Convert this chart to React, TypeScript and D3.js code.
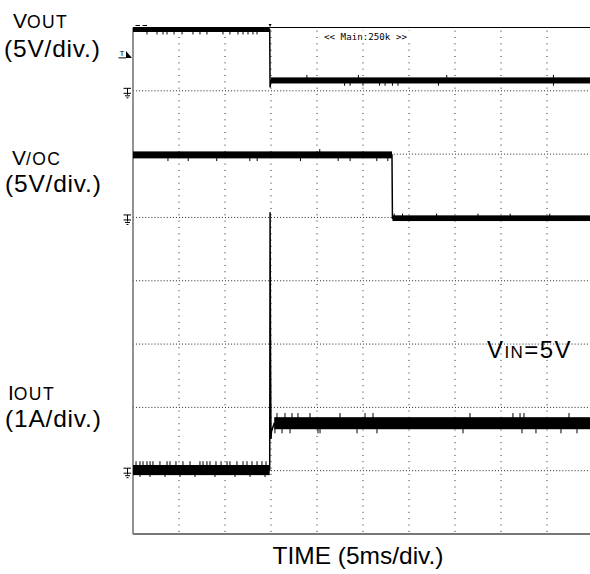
import React from 'react';
import * as d3 from 'd3';

const W = 590;
const H = 574;

// Horizontal: 5 ms/div, 10 divisions. Vertical: 8 divisions.
const msPerDiv = 5;
const hDivs = 10;
const vDivsHalf = 4;

// Channel scales and ground positions (divisions from screen centre)
const voutScale = 5; // V/div
const voutGround = 3;
const vocScale = 5; // V/div
const vocGround = 1;
const ioutScale = 1; // A/div
const ioutGround = -3;
const trigLevel = 2.6; // V on VOUT channel
const trigTime = 14.9; // ms

// VOUT trace (ms, V), noise p-p per segment
const voutT = [0, 14.86, 14.9, 15.0, 50];
const voutV = [4.82, 4.82, 0.27, 0.82, 0.82];
const voutPP = [0.35, 0, 0, 0.48];
const voutGlitchDownT = [1.52, 2.61, 3.26, 3.7, 4.46, 5.33, 6.52, 7.28, 8.04, 9.78, 10.54, 11.41, 11.96, 12.5, 13.04, 13.48];
const voutGlitchDownV = 4.45;
const voutLowGlitchUpT = [18.9, 24.5, 34.1, 45.7];
const voutLowGlitchUpV = 1.25;
const voutLowGlitchDownT = [23.0, 23.6, 25.0, 26.8, 27.4, 28.2, 28.8, 33.2, 45.7];
const voutLowGlitchDownV = 0.4;

// /OC trace (ms, V)
const vocT = [0, 28.15, 28.2, 50];
const vocV = [4.94, 4.94, -0.06, -0.06];
const vocPP = [0.55, 0, 0.45];
const vocGlitchDownT = [3.8, 6.0, 9.1, 12.7, 13.5, 18.2, 22.3, 23.6, 26.5, 27.7];
const vocGlitchDownV = 4.45;
const vocGlitchUpT = [20.3];
const vocGlitchUpV = 5.4;
const vocLowGlitchUpT = [28.4, 29.3, 33.0, 37.5, 41.0, 45.3];
const vocLowGlitchUpV = 0.3;

// IOUT trace (ms, A)
const ioutT = [0, 14.86, 14.9, 14.95, 15.0, 15.05, 15.35, 50];
const ioutV = [0.01, 0.01, 4.08, 1.7, 0.5, 0.62, 0.75, 0.75];
const ioutPP = [0.16, 0, 0, 0, 0, 0, 0.19];
const ioutPreGlitchUpT = [0.33, 0.76, 1.09, 1.52, 1.85, 2.17, 2.93, 3.7, 4.02, 4.67, 5.43, 6.2, 7.28, 7.61, 8.04, 8.37, 9.02, 9.57, 10.22, 10.54, 11.3, 11.96, 12.39, 12.93, 13.48, 14.02, 14.46];
const ioutPreGlitchUpV = 0.15;
const ioutPreGlitchDownT = [0.76, 1.85, 3.48, 5.11, 6.74, 8.91, 11.09, 12.72, 14.35];
const ioutPreGlitchDownV = -0.1;
const ioutPostGlitchUpT = [15.65, 16.52, 17.28, 17.93, 19.24, 22.5, 25.22, 26.09, 36.63, 41.3, 42.07, 42.5, 47.39];
const ioutPostGlitchUpV = 0.91;
const ioutPostGlitchDownT = [15.43, 16.2, 17.07, 20.11, 20.33, 24.35, 26.52, 35.87, 42.28, 43.8, 46.52, 48.26];
const ioutPostGlitchDownV = 0.59;

const FONT = '"Liberation Sans", Arial, Helvetica, sans-serif';

export default function App() {
  const X0 = 133;
  const X1 = 593;
  const Y0 = 27.5;
  const Y1 = 534;
  const x = d3.scaleLinear().domain([0, msPerDiv * hDivs]).range([X0, X1]);
  const yd = d3.scaleLinear().domain([-vDivsHalf, vDivsHalf]).range([Y1, Y0]);
  const yVout = (v: number) => yd(voutGround + v / voutScale);
  const yVoc = (v: number) => yd(vocGround + v / vocScale);
  const yIout = (v: number) => yd(ioutGround + v / ioutScale);

  const hGrid = d3.range(-vDivsHalf + 1, vDivsHalf);
  const vGrid = d3.range(1, hDivs).map((d) => d * msPerDiv);
  const hDx = (X1 - X0) / hDivs;
  const vDy = (Y1 - Y0) / (2 * vDivsHalf);

  const trace = (ts: number[], vs: number[], yf: (v: number) => number, pp: number[], key: string) => {
    const pts = ts.map((t, i) => [x(t), yf(vs[i])] as [number, number]);
    const line = d3.line()(pts) || '';
    const bands = pp.map((p, i) => {
      if (p <= 0) return null;
      const yc = yf(vs[i]);
      const h = Math.abs(yf(vs[i] + p / 2) - yf(vs[i] - p / 2));
      return <rect key={key + 'b' + i} x={x(ts[i])} y={yc - h / 2} width={x(ts[i + 1]) - x(ts[i])} height={h} fill="#000" />;
    });
    return (
      <g key={key}>
        <path d={line} fill="none" stroke="#000" strokeWidth={1.5} />
        {bands}
      </g>
    );
  };

  const glitches = (ts: number[], base: number, peak: number, yf: (v: number) => number, key: string) =>
    ts.map((t, i) => (
      <line key={key + i} x1={x(t)} x2={x(t)} y1={yf(base)} y2={yf(peak)} stroke="#000" strokeWidth={1} />
    ));

  const groundMark = (gy: number, key: string) => (
    <g key={key} stroke="#000" strokeWidth={1}>
      <line x1={123.5} x2={131} y1={gy - 2.5} y2={gy - 2.5} />
      <line x1={127.5} x2={127.5} y1={gy - 2.5} y2={gy + 4} />
      <line x1={123.5} x2={131} y1={gy + 2.5} y2={gy + 2.5} />
      <line x1={125} x2={130} y1={gy + 5} y2={gy + 5} />
      <line x1={126.5} x2={128.5} y1={gy + 7} y2={gy + 7} />
    </g>
  );

  const tY = yVout(trigLevel);

  return (
    <svg width={W} height={H} style={{ position: 'absolute', left: 0, top: 0, background: '#fff' }} fontFamily={FONT}>
      <rect x={0} y={0} width={W} height={H} fill="#fff" />
      {/* grid */}
      {hGrid.map((d) => (
        <line key={'h' + d} x1={X0} x2={X1} y1={yd(d)} y2={yd(d)} stroke="#222" strokeWidth={1} strokeDasharray={`1 ${hDx / 15 - 1}`} />
      ))}
      {vGrid.map((t) => (
        <line key={'v' + t} x1={x(t)} x2={x(t)} y1={Y0} y2={Y1} stroke="#222" strokeWidth={1} strokeDasharray={`1 ${vDy / 10 - 1}`} strokeDashoffset={-vDy / 20} />
      ))}
      {/* frame */}
      <line x1={X0} x2={X1} y1={Y0} y2={Y0} stroke="#000" strokeWidth={1} />
      <line x1={X0} x2={X0} y1={Y0} y2={Y1} stroke="#777" strokeWidth={1.6} />
      <line x1={X0} x2={X1} y1={Y1} y2={Y1} stroke="#777" strokeWidth={1.8} />
      {/* timebase label */}
      <rect x={322} y={31} width={88} height={10} fill="#fff" />
      <text x={324} y={39.5} fontFamily='"DejaVu Sans Mono", "Liberation Mono", monospace' fontSize={9.2} fill="#000">{'<< Main:250k >>'}</text>
      {/* top markers */}
      <line x1={135.5} x2={140} y1={25.5} y2={25.5} stroke="#000" strokeWidth={1} />
      <line x1={142.5} x2={147} y1={25.5} y2={25.5} stroke="#000" strokeWidth={1} />
      <path d={`M${x(trigTime) - 1.5},24 L${x(trigTime) + 1.5},24 L${x(trigTime)},27 Z`} fill="#000" />
      {/* traces */}
      {trace(voutT, voutV, yVout, voutPP, 'vout')}
      {glitches(voutGlitchDownT, voutV[0], voutGlitchDownV, yVout, 'g1')}
      {glitches(voutLowGlitchUpT, voutV[4], voutLowGlitchUpV, yVout, 'g2')}
      {glitches(voutLowGlitchDownT, voutV[4], voutLowGlitchDownV, yVout, 'g3')}
      {trace(vocT, vocV, yVoc, vocPP, 'voc')}
      {glitches(vocGlitchDownT, vocV[0], vocGlitchDownV, yVoc, 'g4')}
      {glitches(vocGlitchUpT, vocV[0], vocGlitchUpV, yVoc, 'g5')}
      {glitches(vocLowGlitchUpT, vocV[3], vocLowGlitchUpV, yVoc, 'g6')}
      {trace(ioutT, ioutV, yIout, ioutPP, 'iout')}
      {glitches(ioutPreGlitchUpT, ioutV[0], ioutPreGlitchUpV, yIout, 'g7')}
      {glitches(ioutPreGlitchDownT, ioutV[0], ioutPreGlitchDownV, yIout, 'g8')}
      {glitches(ioutPostGlitchUpT, ioutV[7], ioutPostGlitchUpV, yIout, 'g9')}
      {glitches(ioutPostGlitchDownT, ioutV[7], ioutPostGlitchDownV, yIout, 'g10')}
      {/* ground markers */}
      {groundMark(yVout(0), 'gm1')}
      {groundMark(yVoc(0), 'gm2')}
      {groundMark(yIout(0), 'gm3')}
      {/* trigger marker */}
      <text x={119.5} y={tY - 1.5} fontSize={8} fill="#000">T</text>
      <line x1={118.5} x2={126} y1={tY} y2={tY} stroke="#000" strokeWidth={1} />
      <path d={`M${126},${tY - 7} L${132},${tY} L${126},${tY} Z`} fill="#000" />
      {/* channel labels */}
      <text x={13} y={28} fontSize={21} fill="#000">V<tspan fontSize={17.5} letterSpacing={1.4}>OUT</tspan></text>
      <text x={4} y={57} fontSize={24.5} fill="#000" letterSpacing={0.8}>(5V/div.)</text>
      <text x={12} y={165} fontSize={21} fill="#000">V<tspan fontSize={17.5} letterSpacing={1.4}>/OC</tspan></text>
      <text x={5} y={192} fontSize={24.5} fill="#000" letterSpacing={0.8}>(5V/div.)</text>
      <text x={8} y={400} fontSize={21} fill="#000">I<tspan fontSize={17.5} letterSpacing={1.4}>OUT</tspan></text>
      <text x={5} y={427} fontSize={24.5} fill="#000" letterSpacing={0.8}>(1A/div.)</text>
      <text x={487} y={358} fontSize={24} fill="#000" letterSpacing={1.4}>V<tspan fontSize={17}>IN</tspan>=5V</text>
      <text x={358} y={564} fontSize={24.5} fill="#000" textAnchor="middle">TIME (5ms/div.)</text>
    </svg>
  );
}
